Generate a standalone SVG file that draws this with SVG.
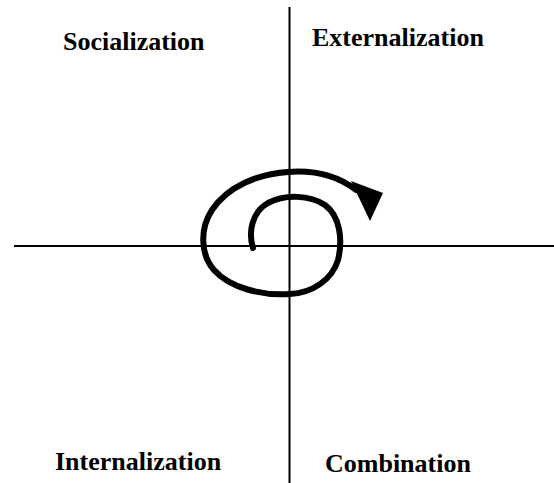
<svg xmlns="http://www.w3.org/2000/svg" width="554" height="483" viewBox="0 0 554 483">
<style>
.lbl{font-family:"Liberation Serif",serif;font-weight:bold;font-size:26px;fill:#000}
.axis{stroke:#000;stroke-width:2;fill:none}
</style>
<rect width="554" height="483" fill="#fff"/>
<g id="connectors">
<line class="axis" x1="289.5" y1="7" x2="289.5" y2="483"/>
<line class="axis" x1="14" y1="246" x2="554" y2="246"/>
<path d="M253,248 C248,232 252,212 268,203 C285,194 310,195 325,205 C340,216 343,240 338,260 C332,280 312,293 290,294 C262,296 230,288 214,270 C200,254 200,228 212,210 C228,186 258,174 288,172 C315,170 338,176 356,190" fill="none" stroke="#000" stroke-width="6" stroke-linecap="round"/>
<polygon points="351,181 383,193 370,221" fill="#000"/>
</g>
<g id="socialization"><text class="lbl" x="63" y="50">Socialization</text></g>
<g id="externalization"><text class="lbl" x="312" y="46">Externalization</text></g>
<g id="internalization"><text class="lbl" x="55" y="470">Internalization</text></g>
<g id="combination"><text class="lbl" x="325" y="472">Combination</text></g>
</svg>
